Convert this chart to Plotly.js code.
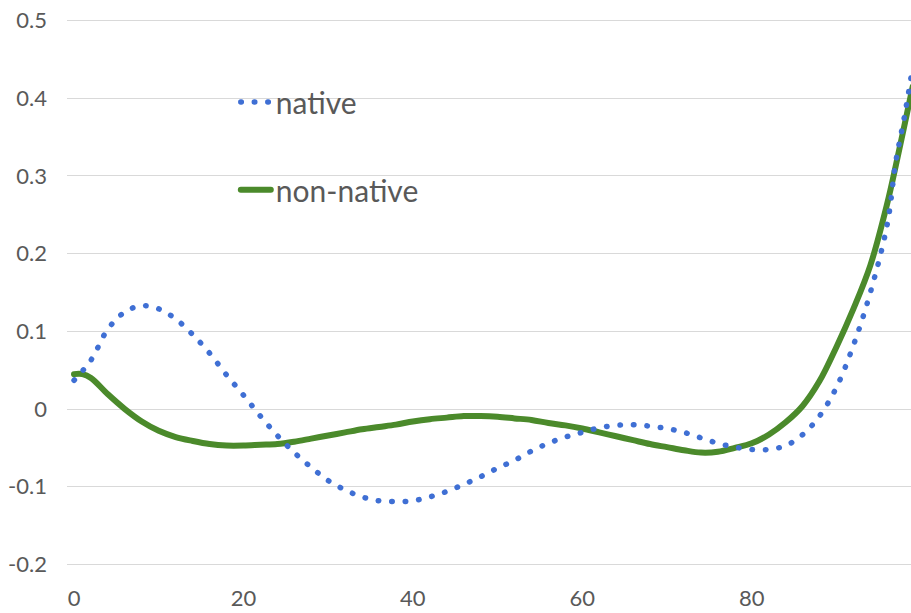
<!DOCTYPE html>
<html>
<head>
<meta charset="utf-8">
<script src="https://cdn.plot.ly/plotly-3.0.1.min.js"></script>
<style>
  html, body { margin: 0; padding: 0; background: #ffffff; }
  #chart { width: 911px; height: 613px; }
  path.js-line { stroke-linecap: round !important; }
</style>
</head>
<body>
<div id="chart"></div>
<script>
// x positions of samples
const nativeX = [0, 2, 4, 6, 8, 10, 12, 14, 16, 18, 20, 22, 24, 26, 28, 30, 32, 34, 36, 38, 40,
  42, 44, 46, 48, 50, 52, 54, 56, 58, 60, 62, 64, 66, 68, 70, 72, 74, 76, 78, 80,
  82, 84, 86, 88, 90, 92, 94, 96, 97, 98, 99];
const nativeY = [0.037, 0.063, 0.103, 0.125, 0.133, 0.129, 0.116, 0.096, 0.072, 0.044, 0.018,
  -0.009, -0.034, -0.056, -0.075, -0.092, -0.104, -0.113, -0.118, -0.119, -0.118,
  -0.113, -0.106, -0.097, -0.087, -0.076, -0.066, -0.054, -0.044, -0.036, -0.030,
  -0.024, -0.021, -0.020, -0.022, -0.025, -0.030, -0.037, -0.044, -0.049, -0.052,
  -0.052, -0.047, -0.033, -0.009, 0.028, 0.082, 0.150, 0.238, 0.318, 0.375, 0.44];

const nonNativeX = [0, 1, 2, 4, 6, 8, 10, 12, 14, 16, 18, 20, 22, 24, 26, 28, 30, 32, 34, 36, 38, 40,
  42, 44, 46, 48, 50, 52, 54, 56, 58, 60, 62, 64, 66, 68, 70, 72, 74, 76, 78, 80,
  82, 84, 86, 88, 90, 92, 94, 96, 97, 98, 99];
const nonNativeY = [0.045, 0.045, 0.040, 0.019, 0.000, -0.016, -0.028, -0.036, -0.041, -0.045, -0.047, -0.047,
  -0.046, -0.045, -0.042, -0.038, -0.034, -0.030, -0.026, -0.023, -0.020, -0.016,
  -0.013, -0.011, -0.009, -0.009, -0.010, -0.012, -0.014, -0.018, -0.021, -0.025,
  -0.030, -0.035, -0.040, -0.045, -0.049, -0.053, -0.056, -0.055, -0.050, -0.044,
  -0.033, -0.017, 0.004, 0.036, 0.080, 0.129, 0.185, 0.265, 0.313, 0.364, 0.415];

const xTicks = [0, 20, 40, 60, 80];
const yTicks = [-0.2, -0.1, 0, 0.1, 0.2, 0.3, 0.4, 0.5];
const yTickText = ['-0.2', '-0.1', '0', '0.1', '0.2', '0.3', '0.4', '0.5'];

const FONT = 'Lato, "Open Sans", sans-serif';
const TXT = '#595959';

const traces = [
  {
    x: nonNativeX, y: nonNativeY, name: 'non-native', type: 'scatter', mode: 'lines',
    line: { color: '#4B8A2B', width: 6, shape: 'spline', smoothing: 1 },
    legend: 'legend2'
  },
  {
    x: nativeX, y: nativeY, name: 'native', type: 'scatter', mode: 'lines',
    line: { color: '#3F6FD4', width: 5.5, dash: '0.5px,13px', shape: 'spline', smoothing: 1 },
    legend: 'legend'
  }
];

const layout = {
  width: 911, height: 613,
  margin: { l: 67, r: 0, t: 18, b: 46, pad: 0 },
  paper_bgcolor: '#ffffff', plot_bgcolor: '#ffffff',
  font: { family: FONT, color: TXT, size: 22 },
  showlegend: true,
  xaxis: {
    range: [-0.83, 98.8], tickvals: xTicks, ticktext: xTicks.map(String),
    showgrid: false, zeroline: false, showline: false, ticks: '',
    ticklabelstandoff: 16,
    tickfont: { family: FONT, color: TXT, size: 22 }
  },
  yaxis: {
    range: [-0.20325, 0.50335], tickvals: yTicks, ticktext: yTickText,
    showgrid: true, gridcolor: '#d9d9d9', gridwidth: 1,
    zeroline: false, showline: false, ticks: '',
    ticklabelstandoff: 19,
    tickfont: { family: FONT, color: TXT, size: 22 }
  },
  legend: {
    x: 0.2, y: 0.847, xanchor: 'left', yanchor: 'middle',
    bgcolor: 'rgba(0,0,0,0)', borderwidth: 0,
    font: { family: FONT, color: TXT, size: 30 }
  },
  legend2: {
    x: 0.2, y: 0.687, xanchor: 'left', yanchor: 'middle',
    bgcolor: 'rgba(0,0,0,0)', borderwidth: 0,
    font: { family: FONT, color: TXT, size: 30 }
  }
};

Plotly.newPlot('chart', traces, layout, { displayModeBar: false, staticPlot: true });
</script>
</body>
</html>
